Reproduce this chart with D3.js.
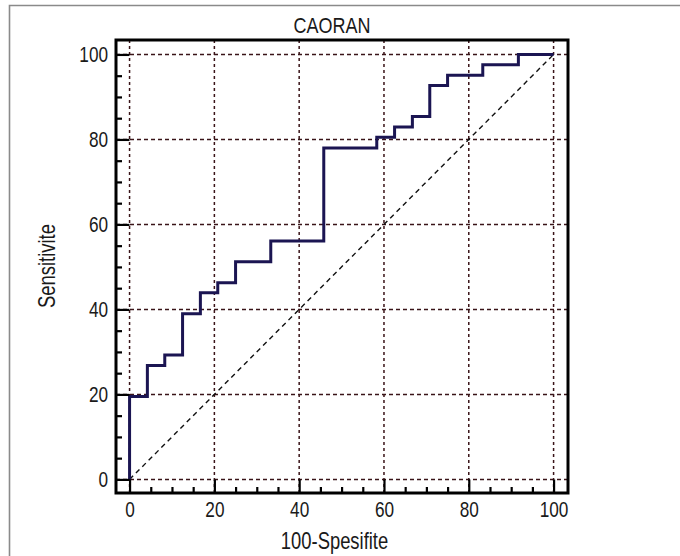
<!DOCTYPE html>
<html><head><meta charset="utf-8">
<script src="https://cdn.jsdelivr.net/npm/d3@7"></script>
<style>
html,body{margin:0;padding:0;background:#fff;overflow:hidden;}
svg{display:block;}
text{font-family:"Liberation Sans",Arial,sans-serif;fill:#1a1a1a;}
</style></head>
<body><svg id="c" width="680" height="556"></svg>
<script>
// ROC curve corner points (100-Specificity, Sensitivity)
const fpr = [0, 0, 4.2, 8.3, 12.5, 16.7, 20.8, 25, 33.3, 45.8, 58.3, 62.5, 66.7, 70.8, 75, 83.3, 91.7, 100];
const tpr = [0, 19.5, 26.8, 29.3, 39.0, 43.9, 46.3, 51.2, 56.1, 78.0, 80.5, 82.9, 85.4, 92.7, 95.1, 97.6, 100, 100];
const majorTicks = [0, 20, 40, 60, 80, 100];
const minorTicks = [5, 10, 15, 25, 30, 35, 45, 50, 55, 65, 70, 75, 85, 90, 95];
const title = "CAORAN";
const xTitle = "100-Spesifite";
const yTitle = "Sensitivite";

const NARROW = 0.8; // emulate a narrow sans face
const svg = d3.select("#c");
const L = 116, R = 568, T = 40, B = 493;
const x = d3.scaleLinear().domain([-3.2, 103.4]).range([L, R]);
const y = d3.scaleLinear().domain([-3.2, 103.4]).range([B, T]);

// outer frame
svg.append("path").attr("d", `M9.5,560V5.5H680`).attr("fill","none").attr("stroke","#8a8a8a").attr("stroke-width",1.6);

// grid
const gridCol = "#3a1418";
svg.append("g").selectAll("line").data(majorTicks).join("line")
  .attr("x1", d => x(d)).attr("x2", d => x(d)).attr("y1", T).attr("y2", B)
  .attr("stroke", gridCol).attr("stroke-width", 1.5).attr("stroke-dasharray", "3,3");
svg.append("g").selectAll("line").data(majorTicks).join("line")
  .attr("y1", d => y(d)).attr("y2", d => y(d)).attr("x1", L).attr("x2", R)
  .attr("stroke", gridCol).attr("stroke-width", 1.5).attr("stroke-dasharray", "4,3");

// diagonal reference
svg.append("line").attr("x1", x(0)).attr("y1", y(0)).attr("x2", x(100)).attr("y2", y(100))
  .attr("stroke", "#111").attr("stroke-width", 1.4).attr("stroke-dasharray", "5,4");

// ROC curve
const pts = fpr.map((v, i) => [v, tpr[i]]);
const line = d3.line().x(d => x(d[0])).y(d => y(d[1])).curve(d3.curveStepAfter);
svg.append("path").datum(pts).attr("d", line).attr("fill", "none")
  .attr("stroke", "#1b1552").attr("stroke-width", 3).attr("stroke-linejoin","miter");

// axes
function styleAxis(g){
  g.select(".domain").remove();
  g.attr("font-family", null).attr("font-size", null);
  g.selectAll(".tick line").attr("stroke","#000").attr("stroke-width",2.2);
  g.selectAll(".tick text").attr("font-size",21.5).attr("fill","#1a1a1a")
   .each(function(){
     const t = d3.select(this);
     const xv = +t.attr("x") || 0;
     t.attr("x", xv / NARROW).attr("transform", `scale(${NARROW},1)`);
   });
}
svg.append("g").attr("transform",`translate(0,${B})`)
  .call(d3.axisBottom(x).tickValues(minorTicks).tickSize(-6).tickFormat(""))
  .call(styleAxis);
svg.append("g").attr("transform",`translate(0,${B})`)
  .call(d3.axisBottom(x).tickValues(majorTicks).tickSize(-13.5).tickPadding(9).tickFormat(d3.format("d")))
  .call(styleAxis);
svg.append("g").attr("transform",`translate(${L},0)`)
  .call(d3.axisLeft(y).tickValues(minorTicks).tickSize(-6).tickFormat(""))
  .call(styleAxis);
svg.append("g").attr("transform",`translate(${L},0)`)
  .call(d3.axisLeft(y).tickValues(majorTicks).tickSize(-13.5).tickPadding(8).tickFormat(d3.format("d")))
  .call(styleAxis);

// frame
svg.append("rect").attr("x", L).attr("y", T).attr("width", R - L).attr("height", B - T)
  .attr("fill","none").attr("stroke","#000").attr("stroke-width",3);

// titles
svg.append("text").attr("transform",`translate(332,33) scale(${NARROW},1)`).attr("text-anchor","middle").attr("font-size",22.5).text(title);
svg.append("text").attr("transform",`translate(334.5,549) scale(${NARROW},1)`).attr("text-anchor","middle").attr("font-size",23).text(xTitle);
svg.append("text").attr("transform",`translate(55,266) rotate(-90) scale(${NARROW},1)`).attr("text-anchor","middle").attr("font-size",23).text(yTitle);
</script></body></html>
